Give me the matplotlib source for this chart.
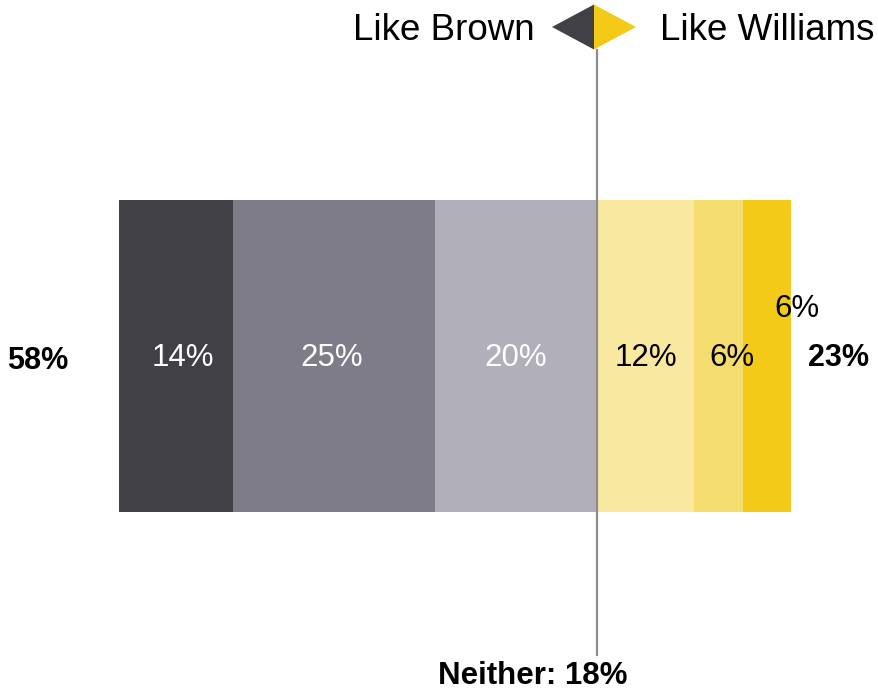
import matplotlib.pyplot as plt
import numpy as np

plt.rcParams['font.family'] = ['Liberation Sans', 'DejaVu Sans']

# Data
brown_vals = [14, 25, 20]          # from outer (left) to centre
brown_colors = ['#414047', '#7d7c88', '#b1b0ba']
williams_vals = [12, 6, 6]         # from centre to outer (right)
williams_colors = ['#f9e8a0', '#f5dc6e', '#f2ca17']
brown_total = '58%'
williams_total = '23%'
neither = 'Neither: 18%'

scale = 8.1  # pixels per percentage point
fig = plt.figure(figsize=(8.79, 6.92), dpi=100)
ax = fig.add_axes([0, 0, 1, 1])
ax.set_xlim(-597 / scale, 282 / scale)
ax.set_ylim(692, 0)
ax.axis('off')

bar_y, bar_h = 356, 312
lab_y = bar_y + 2

# Brown side: stack leftwards from the centre
brown_dx = [7.5, -2, 0]   # label nudges in pixels
left_edges = -np.cumsum(brown_vals[::-1])[::-1]
for val, left, col, dx in zip(brown_vals, left_edges, brown_colors, brown_dx):
    ax.barh(bar_y, val, left=left, height=bar_h, color=col, linewidth=0)
    ax.text(left + val / 2 + dx / scale, lab_y, f'{val}%', ha='center', va='center',
            color='white', fontsize=22.5)

# Williams side
lefts = np.concatenate([[0], np.cumsum(williams_vals)[:-1]])
label_dx = [0, 13.5, 30]
label_dy = [0, 0, -49]
for val, left, col, dx, dy in zip(williams_vals, lefts, williams_colors, label_dx, label_dy):
    ax.barh(bar_y, val, left=left, height=bar_h, color=col, linewidth=0)
    ax.text(left + val / 2 + dx / scale, lab_y + dy, f'{val}%', ha='center', va='center',
            color='black', fontsize=22.5)

# Totals
ax.text(-sum(brown_vals) - 10, bar_y + 5, brown_total, ha='center', va='center',
        fontsize=22, fontweight='bold')
ax.text(sum(williams_vals) + 5.8, lab_y, williams_total, ha='center', va='center',
        fontsize=22, fontweight='bold')

# Centre line
ax.plot([0, 0], [50, 655], color='#8c8c8c', lw=1.6, zorder=3)

# Diamond marker on top
cx, hw, cy, hh = -3 / scale, 42 / scale, 27, 22.5
ax.fill([cx - hw, cx, cx], [cy, cy - hh, cy + hh], color='#414047', lw=0)
ax.fill([cx, cx + hw, cx], [cy - hh, cy, cy + hh], color='#f2ca17', lw=0)
ax.text(cx - hw - 17 / scale, cy + 3, 'Like Brown', ha='right', va='center', fontsize=26.5)
ax.text(cx + hw + 24 / scale, cy + 3, 'Like Williams', ha='left', va='center', fontsize=26.5)

ax.text(-64 / scale, 676, neither, ha='center', va='center', fontsize=22.5,
        fontweight='bold')

plt.savefig('out.png', dpi=100)
